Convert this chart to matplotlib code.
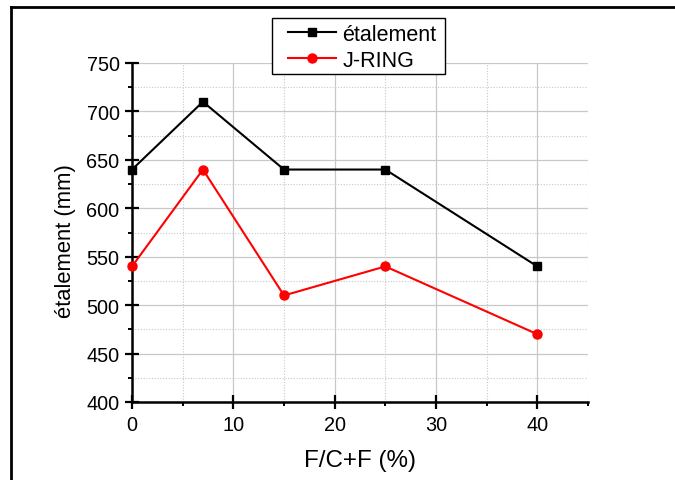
import matplotlib.pyplot as plt
from matplotlib.lines import Line2D
from matplotlib.patches import Rectangle
from matplotlib.ticker import MultipleLocator

plt.rcParams['font.family'] = ['Liberation Sans', 'DejaVu Sans']

# data
fc_pct = [0, 7, 15, 25, 40]
etalement = [640, 710, 640, 640, 540]
j_ring = [540, 640, 510, 540, 470]

fig = plt.figure(figsize=(6.75, 4.81), dpi=100)
ax = fig.add_axes([132/675, 1 - 403/481, 456/675, 339/481])

ax.plot(fc_pct, etalement, color='black', lw=1.5, marker='s', ms=5.5,
        label='étalement', clip_on=False, zorder=3)
ax.plot(fc_pct, j_ring, color='red', lw=1.5, marker='o', ms=6.5,
        label='J-RING', clip_on=False, zorder=3)

ax.set_xlim(0, 45)
ax.set_ylim(400, 750)
ax.xaxis.set_major_locator(MultipleLocator(10))
ax.xaxis.set_minor_locator(MultipleLocator(5))
ax.yaxis.set_major_locator(MultipleLocator(50))
ax.yaxis.set_minor_locator(MultipleLocator(25))

ax.grid(which='major', color='#c8c8c8', lw=0.9, ls='-')
ax.grid(which='minor', color='#c8c8c8', lw=0.8, ls=(0, (1, 1.5)))
ax.set_axisbelow(True)

for s in ['top', 'right']:
    ax.spines[s].set_visible(False)
for s in ['left', 'bottom']:
    ax.spines[s].set_linewidth(1.8)

ax.tick_params(which='major', direction='inout', length=10, width=1.6, labelsize=14.3)
ax.tick_params(axis='x', which='major', pad=4.5)
ax.tick_params(axis='y', which='major', pad=4)
ax.tick_params(which='minor', direction='out', length=3, width=1.4)

ax.set_xlabel('F/C+F (%)', fontsize=17.4, va='center')
ax.set_ylabel('étalement (mm)', fontsize=15.8, va='center')
ax.xaxis.set_label_coords(0.5, (403 - 461) / 339)
ax.yaxis.set_label_coords((65 - 132) / 456, (403 - 241) / 339)

# legend box drawn by hand, entries placed inside it
fig.add_artist(Rectangle((272/675, 1 - 75/481), 173/675, 56/481, facecolor='white',
                         edgecolor='black', lw=1.0, transform=fig.transFigure, zorder=1))
leg = fig.legend(loc='upper left', bbox_to_anchor=(288/675, 1 - 25/481),
                 fontsize=15.5, frameon=False, handlelength=2.25, borderpad=0,
                 labelspacing=0.22, handletextpad=0.28, borderaxespad=0)

# outer frame (top and left edges)
fig.add_artist(Line2D([11/675, 1], [1 - 7.5/481, 1 - 7.5/481], color='black', lw=2,
                      transform=fig.transFigure))
fig.add_artist(Line2D([11/675, 11/675], [0, 1 - 7.5/481], color='black', lw=2,
                      transform=fig.transFigure))

plt.savefig('out.png', dpi=100)
plt.close('all')
